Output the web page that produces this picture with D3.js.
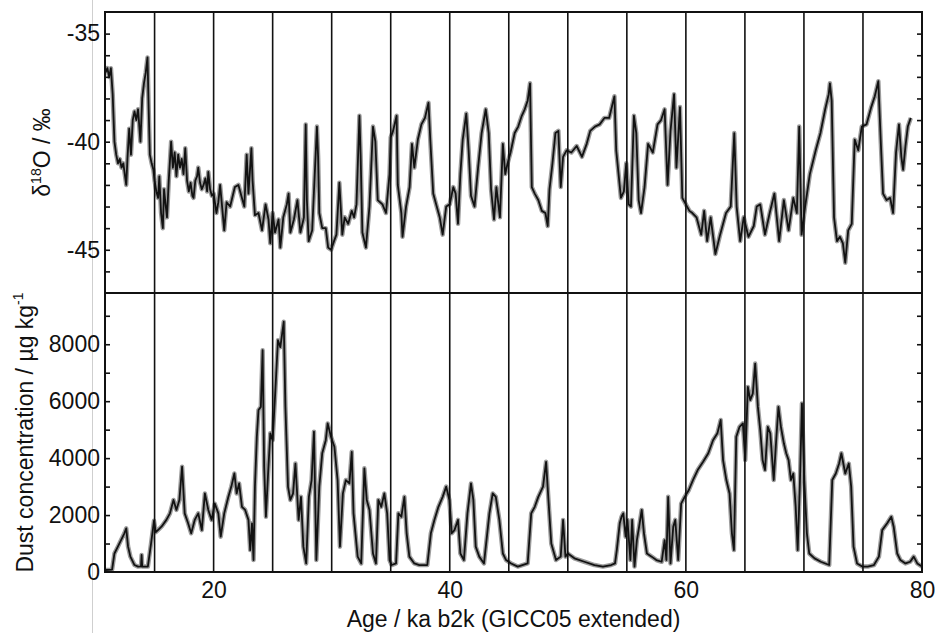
<!DOCTYPE html>
<html>
<head>
<meta charset="utf-8">
<script src="https://cdn.jsdelivr.net/npm/d3@7"></script>
<style>
  html, body { margin: 0; padding: 0; background: #fff; }
  svg text { font-family: "Liberation Sans", Arial, Helvetica, sans-serif; fill: #111; }
</style>
</head>
<body>
<svg id="chart" width="935" height="633"></svg>
<script>
// ---------- data ----------
const o18Age = [10.85,11.0,11.15,11.3,11.45,11.6,11.75,11.9,12.05,12.2,12.35,12.5,12.6,12.7,12.85,13.0,13.15,13.3,13.45,13.6,13.8,13.95,14.1,14.25,14.4,14.5,14.6,14.75,14.9,
15.0,15.15,15.3,15.4,15.55,15.7,15.8,15.95,16.05,16.2,16.4,16.55,16.7,16.85,17.0,17.15,17.3,17.45,17.6,17.75,17.9,18.05,18.2,18.3,18.45,18.6,18.7,18.85,19.0,19.15,19.3,19.45,19.55,19.7,19.85,20.0,
20.24,20.4,20.55,20.9,21.1,21.4,21.8,22.1,22.4,22.6,22.8,22.95,23.2,23.3,23.5,23.8,24.1,24.4,24.65,24.8,25.0,25.2,25.5,25.65,25.9,26.2,26.35,26.5,26.8,27.1,27.35,27.65,27.8,27.9,28.05,28.35,28.75,
28.85,28.95,29.2,29.5,29.7,29.95,30.2,30.4,30.65,30.9,31.1,31.4,31.7,31.9,32.1,32.35,32.45,32.6,32.9,33.2,33.5,33.7,33.9,34.3,34.6,34.9,35.0,35.2,35.5,35.6,35.9,36.0,36.3,36.6,36.8,37.0,37.3,37.6,37.9,38.2,38.35,38.6,38.9,39.15,39.4,39.7,
40.0,40.3,40.5,40.7,40.9,41.1,41.4,41.6,41.8,42.1,42.4,42.7,43.05,43.3,43.5,43.75,43.95,44.25,44.5,44.7,44.9,45.15,45.5,45.8,46.1,46.35,46.6,46.8,46.95,47.2,47.5,47.8,48.1,48.3,48.45,48.7,48.95,49.2,49.4,49.6,49.9,
50.3,50.75,51.2,51.6,51.9,52.3,52.7,53.1,53.5,53.95,54.1,54.5,54.75,54.95,55.15,55.35,55.6,55.8,56.0,56.2,56.5,56.8,57.2,57.6,57.9,58.2,58.45,58.7,59.0,59.2,59.5,59.7,
60.0,60.3,60.55,60.9,61.3,61.55,61.8,62.1,62.5,62.9,63.4,63.8,64.1,64.3,64.6,64.9,65.3,65.75,66.0,66.3,66.7,67.1,67.5,67.9,68.3,68.7,69.1,69.4,69.6,69.8,
70.1,70.5,71.0,71.4,71.8,72.1,72.2,72.35,72.55,72.8,73.05,73.3,73.5,73.75,74.05,74.3,74.6,74.9,75.3,75.7,76.0,76.3,76.5,76.7,77.0,77.3,77.55,77.8,78.05,78.25,78.4,78.6,78.8,79.05];
const o18Val = [-36.8,-36.6,-37.0,-36.6,-37.8,-40.0,-40.6,-41.0,-40.8,-41.2,-41.0,-41.6,-42.0,-40.8,-39.4,-40.6,-39.0,-38.6,-39.0,-38.5,-40.0,-38.0,-37.3,-36.8,-36.1,-38.5,-40.6,-41.0,-41.3,
-41.8,-42.3,-42.6,-41.6,-43.3,-44.0,-42.2,-43.0,-43.5,-41.8,-40.0,-41.2,-40.5,-41.6,-40.6,-41.2,-40.8,-41.5,-40.3,-41.8,-42.3,-41.9,-42.5,-42.6,-41.8,-41.6,-41.2,-41.9,-42.2,-42.0,-41.7,-42.3,-41.4,-42.2,-42.5,-42.4,
-43.3,-42.8,-42.0,-44.1,-42.8,-43.0,-42.1,-42.0,-42.6,-43.0,-40.6,-42.4,-40.3,-41.8,-43.4,-43.3,-44.1,-42.9,-43.6,-44.7,-43.3,-44.2,-43.6,-44.9,-43.5,-42.9,-42.4,-44.2,-43.6,-42.7,-44.2,-43.5,-39.2,-42.7,-44.6,-44.1,-39.3,
-40.7,-43.3,-44.0,-44.0,-44.9,-45.0,-44.6,-44.3,-41.9,-44.3,-43.5,-43.8,-43.2,-43.5,-42.9,-38.8,-40.6,-44.2,-44.9,-43.0,-39.3,-40.0,-42.7,-42.9,-43.3,-41.5,-39.8,-39.5,-38.8,-42.0,-43.3,-44.4,-43.0,-42.1,-40.1,-41.2,-39.9,-39.2,-38.9,-38.2,-39.9,-42.4,-43.0,-43.5,-44.3,-43.0,
-42.9,-42.1,-42.4,-43.8,-41.5,-39.9,-38.7,-40.4,-42.5,-43.0,-41.2,-39.6,-38.5,-39.6,-42.2,-43.6,-42.1,-43.5,-40.1,-41.5,-41.0,-40.5,-39.6,-39.3,-38.8,-38.5,-38.1,-37.3,-42.1,-42.4,-42.7,-43.2,-43.3,-43.9,-42.2,-41.0,-39.6,-39.5,-42.1,-40.7,-40.4,
-40.5,-40.2,-40.7,-40.1,-39.5,-39.3,-39.2,-38.9,-38.9,-37.9,-40.4,-42.6,-42.3,-41.0,-42.9,-43.0,-38.8,-39.6,-42.7,-43.3,-42.1,-40.1,-40.5,-39.2,-39.0,-38.5,-42.0,-39.5,-37.8,-41.2,-38.4,-42.6,
-42.9,-43.2,-43.3,-43.5,-44.3,-43.2,-44.6,-43.5,-45.2,-44.3,-43.3,-43.0,-39.6,-43.0,-44.6,-43.5,-44.4,-43.9,-43.0,-42.9,-44.3,-43.3,-42.4,-44.6,-42.7,-44.1,-42.6,-43.3,-39.3,-44.3,
-43.0,-41.5,-40.4,-39.6,-38.5,-37.8,-37.3,-38.1,-43.5,-44.6,-44.4,-44.7,-45.6,-44.1,-43.8,-39.9,-40.4,-39.3,-39.2,-38.4,-37.9,-37.2,-39.9,-42.4,-42.7,-42.6,-43.3,-40.5,-39.2,-40.7,-41.3,-40.2,-39.3,-38.9];

const dustAge = [10.85,11.4,11.6,11.9,12.16,12.44,12.6,12.75,12.95,13.3,13.6,13.85,13.9,13.95,14.43,14.7,14.95,15.1,15.35,15.6,16.0,16.3,16.6,16.85,17.1,17.33,17.55,17.84,18.1,18.4,18.7,19.0,19.26,19.55,19.83,
20.1,20.4,20.6,20.9,21.25,21.5,21.76,21.95,22.16,22.4,22.67,22.95,23.1,23.25,23.38,23.5,23.66,23.8,24.0,24.15,24.28,24.43,24.6,24.8,25.0,25.23,25.45,25.65,25.94,26.08,26.3,26.5,26.73,26.93,27.2,27.4,27.6,27.84,28.07,28.3,28.5,28.7,28.95,29.2,29.5,29.66,29.94,
30.23,30.5,30.7,30.95,31.2,31.5,31.7,31.85,32.2,32.5,32.77,32.97,33.2,33.5,33.75,33.95,34.2,34.46,34.7,34.9,35.08,35.45,35.65,35.9,36.16,36.35,36.58,37.0,37.43,38.1,38.4,38.7,39.04,39.4,39.7,39.97,
40.17,40.4,40.7,40.9,41.2,41.5,41.8,42.0,42.2,42.5,42.9,43.36,43.64,43.9,44.2,44.5,44.77,45.2,45.76,46.6,46.9,47.2,47.5,47.9,48.16,48.36,48.6,49.0,49.4,49.6,49.8,
50.0,50.56,51.4,52.26,52.97,53.67,54.0,54.15,54.4,54.55,54.7,54.9,55.05,55.3,55.45,55.65,55.85,56.04,56.26,56.45,56.7,57.1,57.5,57.95,58.2,58.35,58.5,58.7,58.93,59.1,59.35,59.6,59.9,
60.25,60.6,61.0,61.46,61.9,62.3,62.67,62.95,63.15,63.43,63.7,63.9,64.07,64.27,64.55,64.83,65.03,65.25,65.45,65.67,65.87,66.1,66.3,66.5,66.7,66.94,67.15,67.44,67.65,67.84,68.05,68.3,68.5,68.7,68.9,69.1,69.3,69.47,69.65,69.83,
70.03,70.25,70.45,70.9,71.43,72.14,72.4,72.7,72.98,73.17,73.5,73.8,74.0,74.2,74.5,74.94,75.4,75.93,76.35,76.63,77.05,77.4,77.6,77.9,78.17,78.6,79.0,79.3,79.6,80.0];
const dustVal = [70,80,650,900,1120,1360,1530,900,540,245,190,200,600,190,190,1000,1800,1400,1500,1600,1830,2060,2530,2180,2530,3700,2060,1710,1360,1830,2060,1470,2760,2180,1830,
2400,2060,1240,2060,2640,3000,3460,2760,3110,2290,2180,1830,770,1710,420,3000,4750,5690,5800,7790,3700,1940,3350,4870,4630,6390,8140,7900,8790,5800,3000,2530,2760,3810,1830,2640,890,300,2640,3230,4930,420,3000,4170,4630,5220,4750,
4400,3230,890,2760,3230,3110,4220,2060,540,300,3640,2530,2180,650,300,2530,2290,2760,2060,420,245,300,2060,1940,2640,1360,540,300,245,245,1360,1830,2290,2640,3000,2530,
1360,1470,1830,650,420,2060,3110,2530,890,540,300,2060,2760,2640,1830,650,420,300,190,300,2060,2290,2640,3000,3870,2530,1000,420,540,1830,540,
650,480,360,245,190,245,300,770,1710,1940,2060,1240,1830,420,1830,190,1120,1590,2180,1360,650,540,420,360,1120,420,2640,300,1590,1830,420,2400,2640,
2880,3230,3580,3870,4170,4630,4870,5340,3930,3230,2760,1360,770,4750,5100,5220,3930,6500,6040,6270,7320,5800,4980,3930,3580,5100,4870,3230,4630,5800,5100,4520,4170,3930,3230,3460,2290,770,3000,5920,
3230,1360,650,480,360,245,3230,3460,3810,4170,3460,3810,3000,890,300,190,190,245,540,1470,1710,1940,1590,650,420,300,360,540,300,190];

const xTicks = [20, 40, 60, 80];
const gridAges = [15, 20, 25, 30, 35, 40, 45, 50, 55, 60, 65, 70, 75];
const o18Major = [-35, -40, -45];
const o18Minor = [-35,-36,-37,-38,-39,-40,-41,-42,-43,-44,-45,-46];
const dustMajor = [0, 2000, 4000, 6000, 8000];
const dustMinor = [1000,2000,3000,4000,5000,6000,7000,8000,9000];

// ---------- layout ----------
const L = 105, R = 922, T = 12, MID = 293, B = 572;
const svg = d3.select("#chart");

const x = d3.scaleLinear().domain([10.8, 80]).range([L, R]);
const yTop = d3.scaleLinear().domain([-47, -34]).range([MID, T]);
const yBot = d3.scaleLinear().domain([0, 9800]).range([B, MID]);

// faint scanner line
svg.append("line").attr("x1", 92.5).attr("x2", 92.5).attr("y1", 0).attr("y2", 633)
  .attr("stroke", "#cfcfcf").attr("stroke-width", 1);

// clip paths
const defs = svg.append("defs");
defs.append("clipPath").attr("id", "clipTop").append("rect")
  .attr("x", L).attr("y", T).attr("width", R - L).attr("height", MID - T);
defs.append("clipPath").attr("id", "clipBot").append("rect")
  .attr("x", L).attr("y", MID).attr("width", R - L).attr("height", B - MID);

// series
const o18Data = o18Age.map((a, i) => [a, o18Val[i]]);
const dustData = dustAge.map((a, i) => [a, dustVal[i]]);

function drawSeries(data, yScale, clip) {
  const line = d3.line().x(d => x(d[0])).y(d => yScale(d[1]));
  const g = svg.append("g").attr("clip-path", `url(#${clip})`);
  g.append("path").datum(data).attr("d", line)
    .attr("fill", "none").attr("stroke", "#9c9c9c").attr("stroke-width", 4.5)
    .attr("stroke-linejoin", "round");
  g.append("path").datum(data).attr("d", line)
    .attr("fill", "none").attr("stroke", "#121212").attr("stroke-width", 1.8)
    .attr("stroke-linejoin", "round");
}
drawSeries(o18Data, yTop, "clipTop");
drawSeries(dustData, yBot, "clipBot");

// vertical grid lines
svg.append("g").selectAll("line").data(gridAges).join("line")
  .attr("x1", d => x(d)).attr("x2", d => x(d))
  .attr("y1", T).attr("y2", B)
  .attr("stroke", "#111").attr("stroke-width", 1.6);

// axes
function styleAxis(g) {
  g.select(".domain").remove();
  g.selectAll(".tick line").attr("stroke", "#111").attr("stroke-width", 1.6);
  g.selectAll("text").attr("font-size", 23).attr("fill", "#111")
    .attr("font-family", '"Liberation Sans", Arial, sans-serif');
}
// top panel left: inward ticks, major labels
svg.append("g").attr("transform", `translate(${L},0)`)
  .call(d3.axisLeft(yTop).tickValues(o18Minor).tickSize(-5).tickPadding(5)
    .tickFormat(d => o18Major.includes(d) ? String(d) : ""))
  .call(styleAxis);
svg.append("g").attr("transform", `translate(${R},0)`)
  .call(d3.axisRight(yTop).tickValues(o18Minor).tickSize(-5).tickFormat(""))
  .call(styleAxis);
// bottom panel
svg.append("g").attr("transform", `translate(${L},0)`)
  .call(d3.axisLeft(yBot).tickValues(dustMinor).tickSize(-5).tickFormat(""))
  .call(styleAxis);
svg.append("g").attr("transform", `translate(${L},0)`)
  .call(d3.axisLeft(yBot).tickValues(dustMajor).tickSize(0).tickPadding(5).tickFormat(d => String(d)))
  .call(styleAxis);
svg.append("g").attr("transform", `translate(${R},0)`)
  .call(d3.axisRight(yBot).tickValues(dustMinor).tickSize(-5).tickFormat(""))
  .call(styleAxis);
// x axis labels
svg.append("g").attr("transform", `translate(0,${B})`)
  .call(d3.axisBottom(x).tickValues(xTicks).tickSize(0).tickPadding(10).tickFormat(d => String(d)))
  .call(styleAxis);

// frame
svg.append("rect").attr("x", L).attr("y", T).attr("width", R - L).attr("height", B - T)
  .attr("fill", "none").attr("stroke", "#111").attr("stroke-width", 2);
svg.append("line").attr("x1", L).attr("x2", R).attr("y1", MID).attr("y2", MID)
  .attr("stroke", "#111").attr("stroke-width", 2);

// titles
const t1 = svg.append("text").attr("transform", `translate(50,${(T + MID) / 2}) rotate(-90)`)
  .attr("text-anchor", "middle").attr("font-size", 23);
t1.append("tspan").text("δ");
t1.append("tspan").attr("font-size", 14).attr("dy", -9).text("18");
t1.append("tspan").attr("dy", 9).text("O / ‰");

const t2 = svg.append("text").attr("transform", `translate(33,${(MID + B) / 2}) rotate(-90)`)
  .attr("text-anchor", "middle").attr("font-size", 23);
t2.append("tspan").text("Dust concentration / µg kg");
t2.append("tspan").attr("font-size", 14).attr("dy", -10).text("-1");

svg.append("text").attr("x", (L + R) / 2).attr("y", 627)
  .attr("text-anchor", "middle").attr("font-size", 23)
  .text("Age / ka b2k (GICC05 extended)");
</script>
</body>
</html>
